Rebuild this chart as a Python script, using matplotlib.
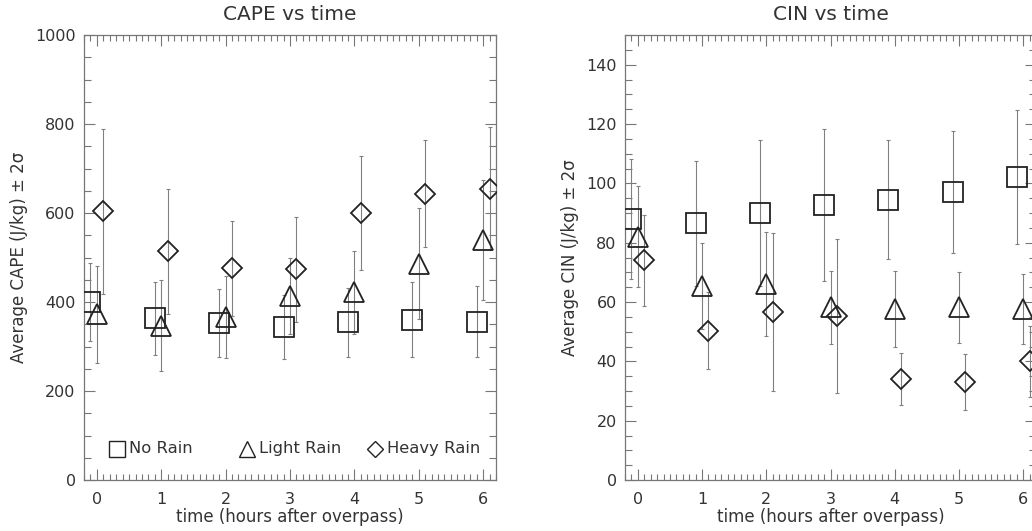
import matplotlib
matplotlib.use("Agg")
import matplotlib.pyplot as plt
from matplotlib.ticker import MultipleLocator
import numpy as np

plt.rcParams["font.family"] = ["DejaVu Sans"]

# hours after overpass
hours = [0, 1, 2, 3, 4, 5, 6]

# CAPE (J/kg), mean and 2 sigma
cape_no_rain = [400, 363, 353, 343, 354, 360, 356]
cape_no_rain_err = [88, 82, 77, 72, 78, 84, 80]
cape_light = [372, 347, 366, 414, 422, 486, 540]
cape_light_err = [110, 102, 92, 85, 93, 125, 135]
cape_heavy = [604, 514, 476, 474, 601, 643, 655]
cape_heavy_err = [185, 141, 107, 118, 128, 120, 138]

# CIN (J/kg), mean and 2 sigma
cin_no_rain = [88, 86.5, 90, 92.7, 94.5, 97, 102.2]
cin_no_rain_err = [20.3, 21, 24.5, 25.5, 20, 20.5, 22.5]
cin_light = [82, 65.5, 66, 58.2, 57.6, 58.2, 57.7]
cin_light_err = [17, 14.5, 17.5, 12.3, 12.8, 12, 11.8]
cin_heavy = [74, 50.3, 56.6, 55.3, 34, 33.1, 40]
cin_heavy_err = [15.4, 13, 26.7, 25.9, 8.7, 9.5, 12]

labels = ["No Rain", "Light Rain", "Heavy Rain"]
markers = ["s", "^", "D"]
sizes = [15, 15, 10.2]
offsets = [-0.1, 0.0, 0.1]

TXT = "#333333"
AX = "#777777"
MK = "#222222"
EB = "#808080"


def style_axes(ax, ymax, ymajor, yminor):
    ax.set_xlim(-0.2, 6.2)
    ax.set_ylim(0, ymax)
    ax.xaxis.set_major_locator(MultipleLocator(1))
    ax.xaxis.set_minor_locator(MultipleLocator(0.1))
    ax.yaxis.set_major_locator(MultipleLocator(ymajor))
    ax.yaxis.set_minor_locator(MultipleLocator(yminor))
    ax.tick_params(which="both", direction="in", top=True, right=True,
                   color=AX, labelcolor=TXT, labelsize=11.5, width=0.8)
    ax.tick_params(which="major", length=8)
    ax.tick_params(axis="x", which="major", pad=9)
    ax.tick_params(axis="y", which="major", pad=6)
    ax.tick_params(axis="x", which="minor", length=4)
    ax.tick_params(axis="y", which="minor", length=5)
    for s in ax.spines.values():
        s.set_color(AX)
        s.set_linewidth(0.9)
    ax.set_xlabel("time (hours after overpass)", fontsize=12, color=TXT, labelpad=0)


def draw_series(ax, series):
    for (vals, errs), m, ms, off in zip(series, markers, sizes, offsets):
        x = np.array(hours) + off
        ax.errorbar(x, vals, yerr=errs, fmt="none", ecolor=EB, elinewidth=0.8,
                    capsize=1.5, capthick=0.8, zorder=2)
        ax.plot(x, vals, linestyle="none", marker=m, markersize=ms,
                markerfacecolor="none", markeredgecolor=MK, markeredgewidth=1.3,
                zorder=3)


fig = plt.figure(figsize=(10.32, 5.31), dpi=100)
ax1 = fig.add_axes([84 / 1032, 51 / 531, 412 / 1032, 445 / 531])
ax2 = fig.add_axes([625 / 1032, 51 / 531, 411 / 1032, 445 / 531])

draw_series(ax1, [(cape_no_rain, cape_no_rain_err), (cape_light, cape_light_err),
                  (cape_heavy, cape_heavy_err)])
style_axes(ax1, 1000, 200, 50)
ax1.set_title("CAPE vs time", fontsize=14.5, color=TXT, pad=11)
ax1.set_ylabel("Average CAPE (J/kg) \u00b1 2\u03c3", fontsize=12, color=TXT, labelpad=5)

# key along the bottom of the CAPE panel, evenly spaced like the original
key_x = [0.08, 0.395, 0.706]
key_y = 0.07
for kx, m, ms, lab in zip(key_x, markers, sizes, labels):
    ax1.plot([kx], [key_y], transform=ax1.transAxes, linestyle="none", marker=m,
             markersize=ms * 0.76, markerfacecolor="none", markeredgecolor=MK,
             markeredgewidth=1.0, clip_on=False)
    ax1.text(kx + 0.03, key_y, lab, transform=ax1.transAxes, fontsize=11.8,
             color=TXT, va="center", ha="left")

draw_series(ax2, [(cin_no_rain, cin_no_rain_err), (cin_light, cin_light_err),
                  (cin_heavy, cin_heavy_err)])
style_axes(ax2, 150, 20, 5)
ax2.set_title("CIN vs time", fontsize=14.5, color=TXT, pad=11)
ax2.set_ylabel("Average CIN (J/kg) \u00b1 2\u03c3", fontsize=12, color=TXT, labelpad=5)

fig.savefig("out.png", dpi=100, facecolor="white")
